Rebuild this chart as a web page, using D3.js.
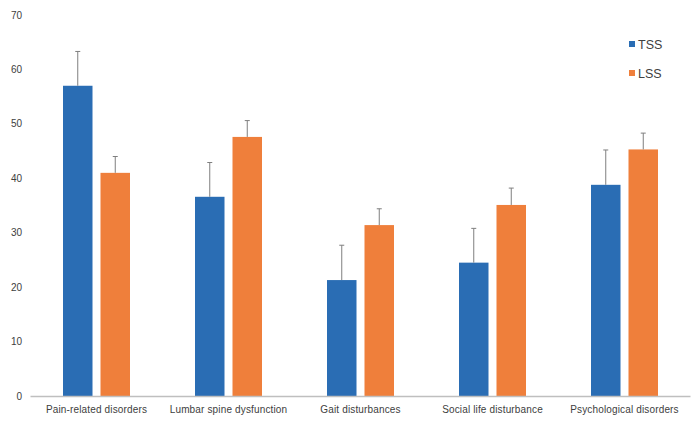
<!DOCTYPE html>
<html><head><meta charset="utf-8">
<script src="https://cdn.jsdelivr.net/npm/d3@7"></script>
<style>body{margin:0;background:#fff;}svg{display:block;font-family:"Liberation Sans",Arial,sans-serif;}</style>
</head><body><svg id="c" width="700" height="425"></svg>
<script>
const categories = ["Pain-related disorders","Lumbar spine dysfunction","Gait disturbances","Social life disturbance","Psychological disorders"];
const seriesNames = ["TSS","LSS"];
const tssValues = [57.0, 36.6, 21.3, 24.5, 38.8];
const tssErrors = [6.3, 6.3, 6.4, 6.3, 6.4];
const lssValues = [41.0, 47.6, 31.4, 35.1, 45.3];
const lssErrors = [3.0, 3.0, 3.0, 3.1, 3.0];
const yTicks = [0,10,20,30,40,50,60,70];
const colors = ["#2a6db4","#ef7f3b"];

const svg = d3.select("#c");
const x0 = d3.scaleBand().domain(categories).range([30.5,690.5]).paddingInner(0).paddingOuter(0);
const y = d3.scaleLinear().domain([0,70]).range([396,15]);
const bw = 29.5, gap = 8;

const data = categories.map((c,i)=>({c, vals:[
  {s:0,v:tssValues[i],e:tssErrors[i]},
  {s:1,v:lssValues[i],e:lssErrors[i]}]}));

// y labels
svg.append("g").selectAll("text").data(yTicks).join("text")
  .attr("x",22).attr("y",d=>y(d)).attr("dy","0.35em").attr("text-anchor","end")
  .attr("font-size",10).attr("fill","#404040").text(d=>d);

const g = svg.append("g").selectAll("g").data(data).join("g")
  .attr("transform",d=>`translate(${x0(d.c)+x0.bandwidth()/2},0)`);

g.selectAll("rect").data(d=>d.vals).join("rect")
  .attr("x",d=> d.s===0 ? -(bw+gap/2) : gap/2)
  .attr("width",bw)
  .attr("y",d=>y(d.v)).attr("height",d=>y(0)-y(d.v))
  .attr("fill",d=>colors[d.s]);

// error bars
g.selectAll("line.err").data(d=>d.vals).join("line").attr("class","err")
  .attr("x1",d=> d.s===0 ? -(bw/2+gap/2) : gap/2+bw/2)
  .attr("x2",d=> d.s===0 ? -(bw/2+gap/2) : gap/2+bw/2)
  .attr("y1",d=>y(d.v)).attr("y2",d=>y(d.v+d.e))
  .attr("stroke","#7f7f7f").attr("stroke-width",1);
g.selectAll("line.cap").data(d=>d.vals).join("line").attr("class","cap")
  .attr("x1",d=> (d.s===0 ? -(bw/2+gap/2) : gap/2+bw/2)-2.5)
  .attr("x2",d=> (d.s===0 ? -(bw/2+gap/2) : gap/2+bw/2)+2.5)
  .attr("y1",d=>y(d.v+d.e)).attr("y2",d=>y(d.v+d.e))
  .attr("stroke","#7f7f7f").attr("stroke-width",1);

// x axis line
svg.append("line").attr("x1",30.5).attr("x2",690.5).attr("y1",y(0)+0.5).attr("y2",y(0)+0.5)
  .attr("stroke","#bfbfbf").attr("stroke-width",1.5);

// category labels
svg.append("g").selectAll("text").data(categories).join("text")
  .attr("x",d=>x0(d)+x0.bandwidth()/2).attr("y",413).attr("text-anchor","middle")
  .attr("font-size",10).attr("letter-spacing","0.15px").attr("fill","#404040").text(d=>d);

// legend
const leg = svg.append("g").selectAll("g").data(seriesNames).join("g")
  .attr("transform",(d,i)=>`translate(629,${41+i*29})`);
leg.append("rect").attr("width",6).attr("height",6).attr("fill",(d,i)=>colors[i]);
leg.append("text").attr("x",9).attr("y",3).attr("dy","0.38em").attr("font-size",12.5).attr("fill","#404040").text(d=>d);
</script></body></html>
